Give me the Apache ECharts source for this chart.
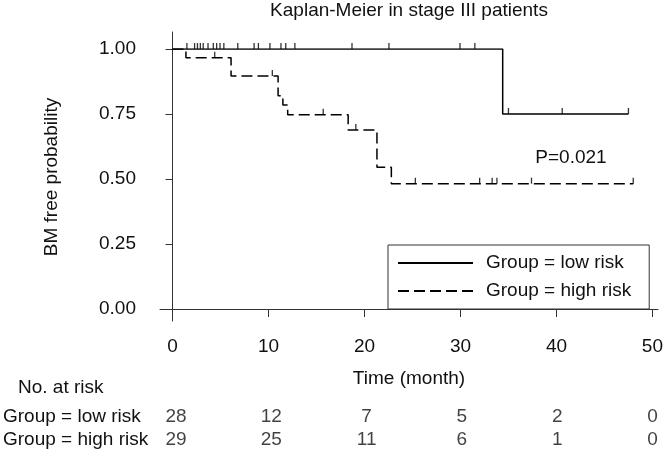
<!DOCTYPE html>
<html><head><meta charset="utf-8">
<script src="https://cdn.jsdelivr.net/npm/echarts@6/dist/echarts.min.js"></script>
<style>html,body{margin:0;padding:0;background:#fff}#c{width:666px;height:453px}</style>
</head><body><div id="c"></div>
<script>
// ---- data ----
const titleText = 'Kaplan-Meier in stage III patients';
const yAxisTitle = 'BM free probability';
const xAxisTitle = 'Time (month)';
const groups = ['Group = low risk', 'Group = high risk'];
const xTicks = [0, 10, 20, 30, 40, 50];
const yTicks = [0, 0.25, 0.5, 0.75, 1];
// step curves: [time, survival] at each event (value after the step)
const lowSteps = [[0, 1], [34.4, 0.75], [47.5, 0.75]];
const lowCensor = [[1.5, 1], [2.3, 1], [2.6, 1], [2.9, 1], [3.2, 1], [3.7, 1], [4.25, 1], [4.6, 1], [4.95, 1], [5.35, 1], [6.8, 1], [8.5, 1], [8.95, 1], [10.15, 1], [11.3, 1], [11.8, 1], [12.75, 1], [18.7, 1], [22.55, 1], [29.95, 1], [31.5, 1], [35.0, 0.75], [40.6, 0.75], [47.5, 0.75]];
const highSteps = [[0, 1], [1.4, 0.966], [6.1, 0.896], [11.0, 0.82], [11.5, 0.785], [12.0, 0.747], [18.3, 0.688], [21.3, 0.545], [22.8, 0.482], [48.0, 0.482]];
const highCensor = [[4.4, 0.966], [10.4, 0.896], [15.7, 0.747], [19.1, 0.688], [25.3, 0.482], [32.0, 0.482], [33.3, 0.482], [33.8, 0.482], [37.4, 0.482], [48.0, 0.482]];
const riskLow = [28, 12, 7, 5, 2, 0];
const riskHigh = [29, 25, 11, 6, 1, 0];
const riskTitle = 'No. at risk';
const pText = 'P=0.021';

// ---- chart ----
const FONT = '"Liberation Sans", Arial, Helvetica, sans-serif';
const FS = 19;
const INK = '#111';
const chart = echarts.init(document.getElementById('c'), null, {renderer: 'canvas'});

const riskData = [];
xTicks.forEach((t, i) => {
  riskData.push([t, groups[0], riskLow[i]]);
  riskData.push([t, groups[1], riskHigh[i]]);
});

const censorSymbol = {symbol: 'rect', symbolSize: [1.3, 6], symbolOffset: [0, -3]};

chart.setOption({
  animation: false,
  backgroundColor: '#fff',
  textStyle: {fontFamily: FONT, color: INK},
  grid: [
    {left: 160, top: 32, width: 498, height: 289},   // frame (L box)
    {left: 172.5, top: 49, width: 480, height: 260}, // data
    {left: 172.5, top: 405.5, width: 480, height: 46} // risk table
  ],
  xAxis: [
    {gridIndex: 0, type: 'value', min: -1.3, max: 50.57, axisLine: {show: true, lineStyle: {color: '#333', width: 1}},
      axisTick: {show: false}, axisLabel: {show: false}, splitLine: {show: false}},
    {gridIndex: 1, type: 'value', min: 0, max: 50, interval: 10, offset: 12,
      axisLine: {show: false}, axisTick: {show: true, length: 8, lineStyle: {color: '#333'}},
      axisLabel: {margin: 16, fontSize: FS, lineHeight: 20, color: INK, fontFamily: FONT},
      splitLine: {show: false}},
    {gridIndex: 2, type: 'value', min: 0, max: 50, show: false}
  ],
  yAxis: [
    {gridIndex: 0, type: 'value', min: -0.046, max: 1.065, axisLine: {show: true, lineStyle: {color: '#333', width: 1}},
      axisTick: {show: false}, axisLabel: {show: false}, splitLine: {show: false}},
    {gridIndex: 1, type: 'value', min: 0, max: 1, interval: 0.25, offset: 12.5,
      axisLine: {show: false}, axisTick: {show: true, length: 7, lineStyle: {color: '#333'}},
      axisLabel: {margin: 24, fontSize: FS, color: INK, fontFamily: FONT, formatter: v => v.toFixed(2)},
      splitLine: {show: false}},
    {gridIndex: 2, type: 'category', data: groups, inverse: true,
      axisLine: {show: false}, axisTick: {show: false},
      axisLabel: {interval: 0, margin: 173, align: 'left', fontSize: FS, color: INK, fontFamily: FONT}}
  ],
  legend: {
    data: groups, orient: 'vertical', left: 388, top: 245,
    itemWidth: 75, itemHeight: 20, itemGap: 8,
    padding: [8, 18, 8, 9],
    borderColor: '#333', borderWidth: 1,
    itemStyle: {opacity: 0},
    textStyle: {fontSize: FS, lineHeight: 20, color: INK, fontFamily: FONT, padding: [0, 0, 0, 8]}
  },
  series: [
    {name: groups[0], type: 'line', xAxisIndex: 1, yAxisIndex: 1, step: 'end', data: lowSteps,
      symbol: 'none', lineStyle: {color: '#000', width: 1.5, type: 'solid'}, itemStyle: {color: '#000'}},
    {name: groups[1], type: 'line', xAxisIndex: 1, yAxisIndex: 1, step: 'end', data: highSteps,
      symbol: 'none', lineStyle: {color: '#000', width: 1.5, type: [11, 5]}, itemStyle: {color: '#000'}},
    Object.assign({name: 'cens-low', type: 'scatter', xAxisIndex: 1, yAxisIndex: 1, data: lowCensor,
      itemStyle: {color: '#000'}}, censorSymbol),
    Object.assign({name: 'cens-high', type: 'scatter', xAxisIndex: 1, yAxisIndex: 1, data: highCensor,
      itemStyle: {color: '#000'}}, censorSymbol),
    {name: 'risk', type: 'scatter', xAxisIndex: 2, yAxisIndex: 2, data: riskData, symbolSize: 0,
      label: {show: true, position: 'inside', formatter: p => String(p.value[2]), fontSize: FS, color: INK, fontFamily: FONT}}
  ],
  graphic: [
    {type: 'text', style: {text: titleText, font: FS + 'px ' + FONT, fill: INK, x: 409, y: 11, align: 'center', verticalAlign: 'middle'}},
    {type: 'text', style: {text: yAxisTitle, font: FS + 'px ' + FONT, fill: INK, align: 'center', verticalAlign: 'middle'}, x: 52, y: 177, rotation: Math.PI / 2},
    {type: 'text', style: {text: xAxisTitle, font: FS + 'px ' + FONT, fill: INK, x: 409, y: 379, align: 'center', verticalAlign: 'middle'}},
    {type: 'text', style: {text: riskTitle, font: FS + 'px ' + FONT, fill: INK, x: 18, y: 388, align: 'left', verticalAlign: 'middle'}},
    {type: 'text', style: {text: pText, font: FS + 'px ' + FONT, fill: INK, x: 571, y: 158, align: 'center', verticalAlign: 'middle'}}
  ]
});
</script>
</body></html>
